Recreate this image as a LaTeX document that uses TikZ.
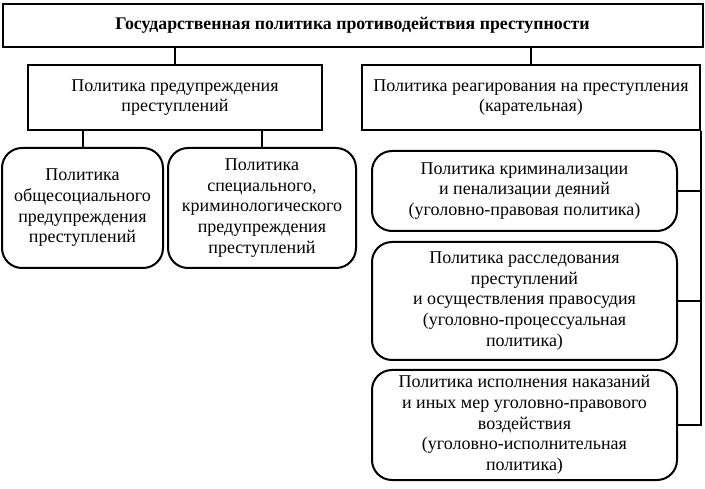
\documentclass[tikz,border=0pt]{standalone}
\usepackage{fontspec}
\setmainfont{Liberation Serif}
\usepackage{tikz}
\usetikzlibrary{positioning}

\begin{document}
\begin{tikzpicture}[
      x=1pt,y=-1pt,
      head/.style={draw,line width=2pt,inner sep=0pt,font=\fontsize{17.8}{20}\selectfont\bfseries},
      box/.style={draw,line width=2pt,inner sep=0pt,align=center,font=\fontsize{18}{20.7}\selectfont},
      rbox/.style={box,rounded corners=20pt},
      link/.style={line width=2pt}
    ]
      \useasboundingbox (0,0) rectangle (705,489);
      \node[head,minimum width=700pt,minimum height=43pt] (state) at (352.5,25.5) {Государственная политика противодействия преступности};
      \node[box,minimum width=294pt,minimum height=65pt] (prev) at (175,97.5) {Политика предупреждения\\преступлений};
      \node[box,minimum width=338pt,minimum height=65pt] (react) at (531,97.5) {Политика реагирования на преступления\\(карательная)};
      \node[rbox,minimum width=161pt,minimum height=120pt] (gen) at (82.5,208) {Политика\\общесоциального\\предупреждения\\преступлений};
      \node[rbox,minimum width=188pt,minimum height=120pt] (spec) at (262,208) {Политика\\специального,\\криминологического\\предупреждения\\преступлений};
      \node[rbox,minimum width=305pt,minimum height=80pt] (crim) at (524.5,191) {Политика криминализации\\и пенализации деяний\\(уголовно-правовая политика)};
      \node[rbox,minimum width=305pt,minimum height=118pt] (inv) at (524.5,301) {Политика расследования\\преступлений\\и осуществления правосудия\\(уголовно-процессуальная\\политика)};
      \node[rbox,minimum width=305pt,minimum height=110pt] (exec) at (524.5,425) {Политика исполнения наказаний\\и иных мер уголовно-правового\\воздействия\\(уголовно-исполнительная\\политика)};
      \draw[link] (state.south -| prev) -- (prev);
      \draw[link] (state.south -| react) -- (react);
      \draw[link] (prev.south -| gen) -- (gen);
      \draw[link] (prev.south -| spec) -- (spec);
      \draw[link] (react.south east) |- (crim.east);
      \draw[link] (react.south east) |- (inv.east);
      \draw[link] (react.south east) |- (exec.east);
    \end{tikzpicture}
\end{document}
